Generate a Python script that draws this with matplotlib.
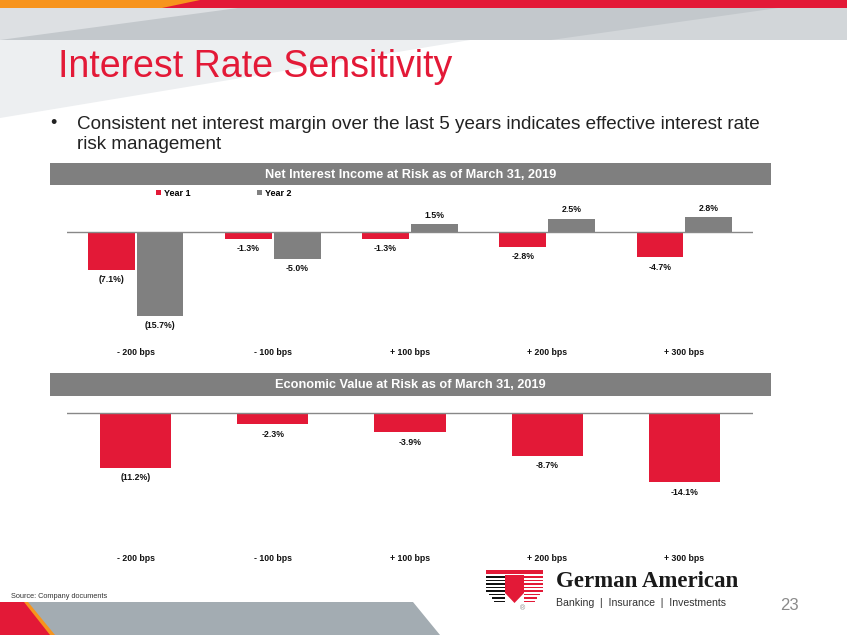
import matplotlib
matplotlib.use("Agg")
import matplotlib.pyplot as plt
from matplotlib.patches import Polygon, Rectangle
import numpy as np

# ---------------- data ----------------
categories = ["- 200 bps", "- 100 bps", "+ 100 bps", "+ 200 bps", "+ 300 bps"]
nii_year1 = [-7.1, -1.3, -1.3, -2.8, -4.7]
nii_year2 = [-15.7, -5.0, 1.5, 2.5, 2.8]
nii_year1_labels = ["(7.1%)", "-1.3%", "-1.3%", "-2.8%", "-4.7%"]
nii_year2_labels = ["(15.7%)", "-5.0%", "1.5%", "2.5%", "2.8%"]
eve_values = [-11.2, -2.3, -3.9, -8.7, -14.1]
eve_labels = ["(11.2%)", "-2.3%", "-3.9%", "-8.7%", "-14.1%"]
series_names = ["Year 1", "Year 2"]

title = "Interest Rate Sensitivity"
bullet = ("Consistent net interest margin over the last 5 years indicates effective interest rate\n"
          "risk management")
chart1_title = "Net Interest Income at Risk as of March 31, 2019"
chart2_title = "Economic Value at Risk as of March 31, 2019"

RED = "#E31937"
GREY = "#808080"
ORANGE = "#F7941D"

W, H = 847, 635
plt.rcParams['font.family'] = ['Liberation Sans', 'DejaVu Sans']
fig = plt.figure(figsize=(W / 100, H / 100), dpi=100)
fig.patch.set_facecolor("white")

# background axes in pixel coordinates
bg = fig.add_axes([0, 0, 1, 1], zorder=-5)
bg.set_xlim(0, W)
bg.set_ylim(H, 0)
bg.axis("off")

def poly(pts, color, z=0):
    bg.add_patch(Polygon(pts, closed=True, facecolor=color, edgecolor="none", zorder=z))

# top decoration
poly([(0, 40), (470, 40), (0, 118)], "#EDEFF1")
poly([(0, 8), (W, 8), (W, 40), (0, 40)], "#C3C8CC")
poly([(0, 8), (238, 8), (0, 40)], "#DDE0E3", 1)
poly([(778, 8), (W, 8), (W, 40), (551, 40)], "#D2D6D9", 1)
poly([(0, 0), (W, 0), (W, 8), (0, 8)], RED, 2)
poly([(0, 0), (200, 0), (162, 8), (0, 8)], ORANGE, 3)

# bottom decoration
poly([(0, 602), (413, 602), (440, 635), (0, 635)], "#A3ACB2")
poly([(0, 602), (28, 602), (55, 635), (0, 635)], ORANGE, 1)
poly([(0, 602), (24, 602), (50, 635), (0, 635)], RED, 2)

# title and bullet
bg.text(58, 77, title, color=RED, fontsize=27, ha="left", va="baseline")
bg.text(53, 123, "\u2022", color="#222222", fontsize=13, ha="center", va="center")
bg.text(77, 116, bullet, color="#222222", fontsize=13.6, ha="left", va="top", linespacing=1.25)

# chart header bars
for (top, bot, txt) in [(163, 185, chart1_title), (373, 396, chart2_title)]:
    poly([(50, top), (771, top), (771, bot), (50, bot)], "#7F7F7F")
    bg.text(410.5, (top + bot) / 2 + 0.5, txt, color="white", fontsize=9.2,
            fontweight="bold", ha="center", va="center")

# source, logo, page number
bg.text(11, 596, "Source: Company documents", color="#333333", fontsize=5.3, ha="left", va="center")
bg.add_patch(Rectangle((486, 570), 57, 3.5, facecolor=RED, edgecolor="none"))
stripe_ys = [577, 580.5, 584, 587.5, 591, 594.5, 598, 601.5]
for i, y in enumerate(stripe_ys):
    inset = max(0, (i - 4) * 2.8)
    l, r = 486 + inset, 543 - inset
    bg.add_patch(Rectangle((l, y - 0.9), 505 - l, 1.8, facecolor="#111111", edgecolor="none"))
    bg.add_patch(Rectangle((524, y - 0.9), r - 524, 1.8, facecolor=RED, edgecolor="none"))
poly([(505, 575), (524, 575), (524, 593), (514.5, 603), (505, 593)], RED, 2)
bg.text(522, 609, "\u00ae", color="#888888", fontsize=5, ha="center", va="center")
bg.text(556, 587, "German American", family=["Liberation Serif"], fontweight="bold",
        fontsize=16.5, color="#1a1a1a", ha="left", va="baseline")
bg.text(556, 603, "Banking  |  Insurance  |  Investments", color="#333333",
        fontsize=7.6, ha="left", va="center")
bg.text(789, 606, "23", color="#8a8a8a", fontsize=12, ha="center", va="center")

def add_axes_px(l, t, r, b):
    return fig.add_axes([l / W, 1 - b / H, (r - l) / W, (b - t) / H])

x = np.arange(len(categories))

def style(ax, zero_px, top_px, bot_px, scale, pad):
    ax.set_xlim(-0.5, len(categories) - 0.5)
    ax.set_ylim(-(bot_px - zero_px) / scale, (zero_px - top_px) / scale)
    for s in ax.spines.values():
        s.set_visible(False)
    ax.set_yticks([])
    ax.set_xticks(x)
    ax.set_xticklabels(categories, fontsize=6.3, fontweight="bold", color="#111111")
    ax.tick_params(axis="x", length=0, pad=pad)
    ax.axhline(0, color="#888888", lw=1.0, zorder=3)
    ax.patch.set_alpha(0)

def label(ax, xs, vals, labels):
    for xi, v, t in zip(xs, vals, labels):
        off = 6.3 if v > 0 else -7.2
        ax.annotate(t, (xi, v), xytext=(0, off), textcoords="offset points",
                    ha="center", va="center", fontsize=6.3, fontweight="bold", color="#111111")

# chart 1
ax1 = add_axes_px(67, 200, 753, 345)
style(ax1, 232, 200, 345, 5.35, 2.0)
bw = 0.34
b1 = ax1.bar(x - 0.178, nii_year1, bw, color=RED, label=series_names[0], zorder=2)
b2 = ax1.bar(x + 0.178, nii_year2, bw, color=GREY, label=series_names[1], zorder=2)
label(ax1, x - 0.178, nii_year1, nii_year1_labels)
label(ax1, x + 0.178, nii_year2, nii_year2_labels)
leg = ax1.legend(handles=[b1, b2], loc="center left", ncol=2, frameon=False,
                 bbox_to_anchor=(156 / W, 1 - 193 / H), bbox_transform=fig.transFigure,
                 prop={"size": 6.5, "weight": "bold"}, handlelength=0.55, handleheight=0.55,
                 handletextpad=0.3, columnspacing=7.4, borderpad=0, borderaxespad=0)

# chart 2
ax2 = add_axes_px(67, 405, 753, 550)
style(ax2, 413, 405, 550, 4.9, 3.2)
ax2.bar(x, eve_values, 0.52, color=RED, zorder=2)
label(ax2, x, eve_values, eve_labels)

fig.savefig("out.png", dpi=100)
